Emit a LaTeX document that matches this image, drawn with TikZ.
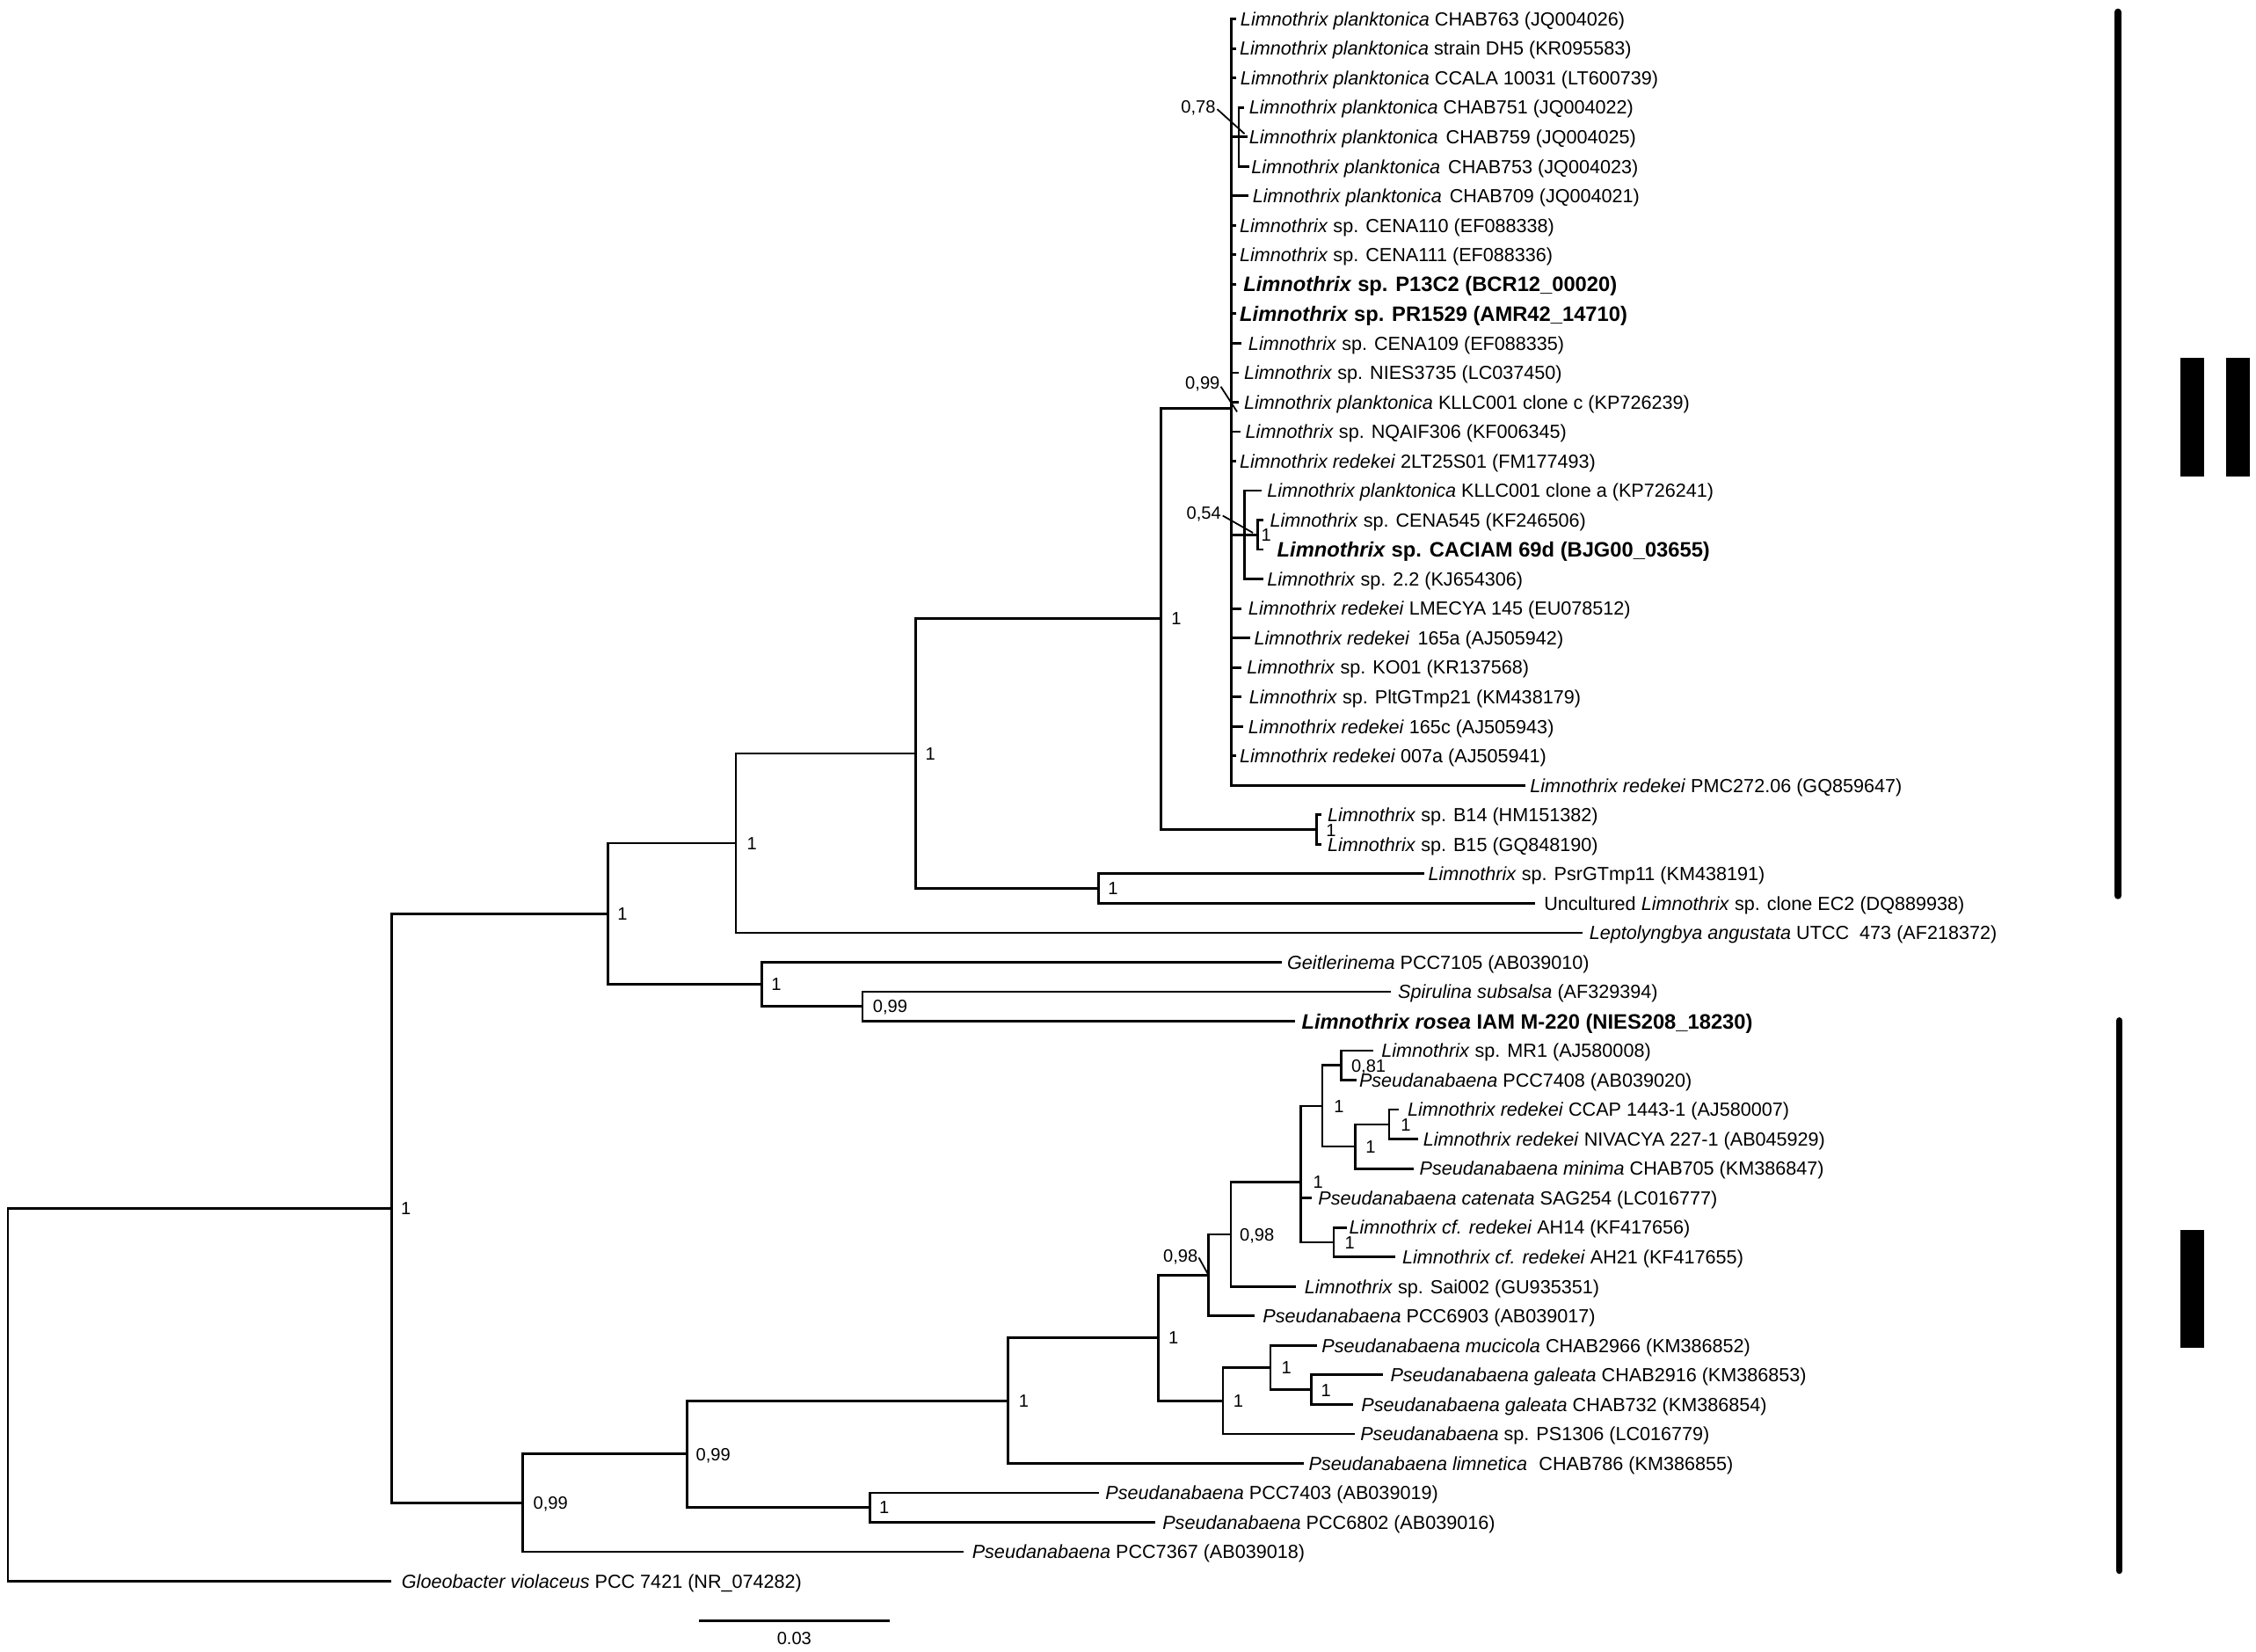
\documentclass[tikz,border=0pt]{standalone}
\usepackage{fontspec}
\setmainfont{Liberation Sans}
\tikzset{
  br/.style={line width=1.7pt, line cap=rect, line join=miter},
  leaf/.style={anchor=west, inner sep=0pt, font=\fontsize{13.2}{15}\selectfont, text height=9.5pt, text depth=0pt},
  bleaf/.style={anchor=west, inner sep=0pt, font=\bfseries\fontsize{14.5}{17}\selectfont, text height=10.4pt, text depth=0pt},
  supp/.style={anchor=west, inner sep=0pt, font=\fontsize{12.3}{14}\selectfont, text height=8.8pt, text depth=0pt},
  lead/.style={line width=1.1pt},
  bar/.style={line width=4.7pt, line cap=round},
  blk/.style={fill=black, inner sep=0pt, minimum width=16.2pt, minimum height=82pt},
}
\newcommand\leafnode[5]{\coordinate (#1) at (#3,{13.2+(#2-1)*20.487});
  \node[leaf] (#1t) at (#4,{13.2+(#2-1)*20.487}) {#5};}
\newcommand\boldleaf[5]{\coordinate (#1) at (#3,{13.2+(#2-1)*20.487});
  \node[bleaf] (#1t) at (#4,{13.2+(#2-1)*20.487}) {#5};}
\begin{document}
\begin{tikzpicture}[x=1pt,y=-1pt]
\useasboundingbox (0,0) rectangle (1568,1148);
% ---------- internal nodes
\coordinate (root) at (5.5,969.4);
\coordinate (A) at (272,839.8);
\coordinate (B) at (422.5,635);
\coordinate (C) at (511.5,586);
\coordinate (D) at (636.4,523.7);
\coordinate (E) at (807,429.8);
\coordinate (Q) at (856,283.7);
\coordinate (Q1) at (861,95.15);
\coordinate (S) at (865,371.7);
\coordinate (T) at (874,371.7);
\coordinate (R) at (915,576.6);
\coordinate (F) at (763.5,617.6);
\coordinate (G) at (529.4,684.1);
\coordinate (H) at (599.5,699.5);
\coordinate (P) at (363.5,1044.6);
\coordinate (U) at (477.5,1010.6);
\coordinate (V) at (700.5,973.5);
\coordinate (W) at (604.5,1047.8);
\coordinate (X) at (805,929.9);
\coordinate (Y) at (840,886.3);
\coordinate (AA) at (855.5,857.9);
\coordinate (BB) at (904,821.6);
\coordinate (DD) at (919,768.7);
\coordinate (FF) at (932,740.5);
\coordinate (GG) at (942,796.8);
\coordinate (HH) at (965.5,781.5);
\coordinate (EE) at (927,863.4);
\coordinate (Z) at (850,973.5);
\coordinate (CC) at (883,950.5);
\coordinate (II) at (911.4,965.8);
% ---------- leaves
\leafnode{l1}{1}{858.5}{862}{\textit{Limnothrix planktonica} CHAB763 (JQ004026)}
\leafnode{l2}{2}{858.5}{861.5}{\textit{Limnothrix planktonica} strain DH5 (KR095583)}
\leafnode{l3}{3}{858.5}{862}{\textit{Limnothrix planktonica} CCALA 10031 (LT600739)}
\leafnode{l4}{4}{864}{868}{\textit{Limnothrix planktonica} CHAB751 (JQ004022)}
\leafnode{l5}{5}{866}{868}{\textit{Limnothrix planktonica}\hspace{5.5pt}CHAB759 (JQ004025)}
\leafnode{l6}{6}{867.5}{869.5}{\textit{Limnothrix planktonica}\hspace{5.5pt}CHAB753 (JQ004023)}
\leafnode{l7}{7}{867}{870.5}{\textit{Limnothrix planktonica}\hspace{5.5pt}CHAB709 (JQ004021)}
\leafnode{l8}{8}{858.5}{861.5}{\textit{Limnothrix} sp. CENA110 (EF088338)}
\leafnode{l9}{9}{858.5}{861.5}{\textit{Limnothrix} sp. CENA111 (EF088336)}
\boldleaf{l10}{10}{858.5}{864}{\textit{Limnothrix} sp. P13C2 (BCR12\_00020)}
\boldleaf{l11}{11}{858.5}{861.5}{\textit{Limnothrix} sp. PR1529 (AMR42\_14710)}
\leafnode{l12}{12}{862}{867.5}{\textit{Limnothrix} sp. CENA109 (EF088335)}
\leafnode{l13}{13}{860}{864.5}{\textit{Limnothrix} sp. NIES3735 (LC037450)}
\leafnode{l14}{14}{860}{864.5}{\textit{Limnothrix planktonica} KLLC001 clone c (KP726239)}
\leafnode{l15}{15}{861.5}{865.5}{\textit{Limnothrix} sp. NQAIF306 (KF006345)}
\leafnode{l16}{16}{858.5}{861.5}{\textit{Limnothrix redekei} 2LT25S01 (FM177493)}
\leafnode{l17}{17}{876}{880.5}{\textit{Limnothrix planktonica} KLLC001 clone a (KP726241)}
\leafnode{l18}{18}{877}{882.5}{\textit{Limnothrix} sp. CENA545 (KF246506)}
\boldleaf{l19}{19}{877}{887.5}{\textit{Limnothrix} sp. CACIAM 69d (BJG00\_03655)}
\leafnode{l20}{20}{877}{880.5}{\textit{Limnothrix} sp. 2.2 (KJ654306)}
\leafnode{l21}{21}{862}{867.5}{\textit{Limnothrix redekei} LMECYA 145 (EU078512)}
\leafnode{l22}{22}{868}{871.5}{\textit{Limnothrix redekei}\hspace{5.5pt}165a (AJ505942)}
\leafnode{l23}{23}{862}{866.5}{\textit{Limnothrix} sp. KO01 (KR137568)}
\leafnode{l24}{24}{862}{868}{\textit{Limnothrix} sp. PltGTmp21 (KM438179)}
\leafnode{l25}{25}{863}{867.5}{\textit{Limnothrix redekei} 165c (AJ505943)}
\leafnode{l26}{26}{858.5}{861.5}{\textit{Limnothrix redekei} 007a (AJ505941)}
\leafnode{l27}{27}{1059.6}{1063.2}{\textit{Limnothrix redekei} PMC272.06 (GQ859647)}
\leafnode{l28}{28}{917.5}{922.5}{\textit{Limnothrix} sp. B14 (HM151382)}
\leafnode{l29}{29}{917.5}{922.5}{\textit{Limnothrix} sp. B15 (GQ848190)}
\leafnode{l30}{30}{989}{992.5}{\textit{Limnothrix} sp. PsrGTmp11 (KM438191)}
\leafnode{l31}{31}{1066}{1073}{Uncultured \textit{Limnothrix} sp. clone EC2 (DQ889938)}
\leafnode{l32}{32}{1099}{1104.5}{\textit{Leptolyngbya angustata} UTCC\ \ 473 (AF218372)}
\leafnode{l33}{33}{890}{894.5}{\textit{Geitlerinema} PCC7105 (AB039010)}
\leafnode{l34}{34}{966}{971.5}{\textit{Spirulina subsalsa} (AF329394)}
\boldleaf{l35}{35}{899}{904.5}{\textit{Limnothrix rosea} IAM M-220 (NIES208\_18230)}
\leafnode{l36}{36}{953.7}{960}{\textit{Limnothrix} sp. MR1 (AJ580008)}
\leafnode{l37}{37}{942}{944.5}{\textit{Pseudanabaena} PCC7408 (AB039020)}
\leafnode{l38}{38}{971.6}{978.2}{\textit{Limnothrix redekei} CCAP 1443-1 (AJ580007)}
\leafnode{l39}{39}{985}{989}{\textit{Limnothrix redekei} NIVACYA 227-1 (AB045929)}
\leafnode{l40}{40}{981.8}{986.5}{\textit{Pseudanabaena minima} CHAB705 (KM386847)}
\leafnode{l41}{41}{911}{916}{\textit{Pseudanabaena catenata} SAG254 (LC016777)}
\leafnode{l42}{42}{935.4}{937.5}{\textit{Limnothrix cf. redekei} AH14 (KF417656)}
\leafnode{l43}{43}{969}{974.5}{\textit{Limnothrix cf. redekei} AH21 (KF417655)}
\leafnode{l44}{44}{900}{906.5}{\textit{Limnothrix} sp. Sai002 (GU935351)}
\leafnode{l45}{45}{871.4}{877.5}{\textit{Pseudanabaena} PCC6903 (AB039017)}
\leafnode{l46}{46}{914.8}{918.5}{\textit{Pseudanabaena mucicola} CHAB2966 (KM386852)}
\leafnode{l47}{47}{960.6}{966.2}{\textit{Pseudanabaena galeata} CHAB2916 (KM386853)}
\leafnode{l48}{48}{939.5}{946}{\textit{Pseudanabaena galeata} CHAB732 (KM386854)}
\leafnode{l49}{49}{940.5}{945.3}{\textit{Pseudanabaena} sp. PS1306 (LC016779)}
\leafnode{l50}{50}{905.4}{909.5}{\textit{Pseudanabaena limnetica}\hspace{8pt}CHAB786 (KM386855)}
\leafnode{l51}{51}{762.7}{768.2}{\textit{Pseudanabaena} PCC7403 (AB039019)}
\leafnode{l52}{52}{802}{807.8}{\textit{Pseudanabaena} PCC6802 (AB039016)}
\leafnode{l53}{53}{669}{675.5}{\textit{Pseudanabaena} PCC7367 (AB039018)}
\leafnode{l54}{54}{271}{279}{\textit{Gloeobacter violaceus} PCC 7421 (NR\_074282)}
% ---------- branches
\draw[br] (root) |- (A);  \draw[br] (root) |- (l54);
\draw[br] (A) |- (B);     \draw[br] (A) |- (P);
\draw[br] (B) |- (C);     \draw[br] (B) |- (G);
\draw[br] (C) |- (D);     \draw[br] (C) |- (l32);
\draw[br] (D) |- (E);     \draw[br] (D) |- (F);
\draw[br] (E) |- (Q);     \draw[br] (E) |- (R);
\foreach \c in {l1,l2,l3,Q1,l7,l8,l9,l10,l11,l12,l13,l14,l15,l16,S,l21,l22,l23,l24,l25,l26,l27}
  \draw[br] (Q) |- (\c);
\foreach \c in {l4,l5,l6} \draw[br] (Q1) |- (\c);
\foreach \c in {l17,T,l20} \draw[br] (S) |- (\c);
\draw[br] (T) |- (l18);   \draw[br] (T) |- (l19);
\draw[br] (R) |- (l28);   \draw[br] (R) |- (l29);
\draw[br] (F) |- (l30);   \draw[br] (F) |- (l31);
\draw[br] (G) |- (l33);   \draw[br] (G) |- (H);
\draw[br] (H) |- (l34);   \draw[br] (H) |- (l35);
\draw[br] (P) |- (U);     \draw[br] (P) |- (l53);
\draw[br] (U) |- (V);     \draw[br] (U) |- (W);
\draw[br] (V) |- (X);     \draw[br] (V) |- (l50);
\draw[br] (X) |- (Y);     \draw[br] (X) |- (Z);
\draw[br] (Y) |- (AA);    \draw[br] (Y) |- (l45);
\draw[br] (AA) |- (BB);   \draw[br] (AA) |- (l44);
\foreach \c in {DD,l41,EE} \draw[br] (BB) |- (\c);
\draw[br] (DD) |- (FF);   \draw[br] (DD) |- (GG);
\draw[br] (FF) |- (l36);  \draw[br] (FF) |- (l37);
\draw[br] (GG) |- (HH);   \draw[br] (GG) |- (l40);
\draw[br] (HH) |- (l38);  \draw[br] (HH) |- (l39);
\draw[br] (EE) |- (l42);  \draw[br] (EE) |- (l43);
\draw[br] (Z) |- (CC);    \draw[br] (Z) |- (l49);
\draw[br] (CC) |- (l46);  \draw[br] (CC) |- (II);
\draw[br] (II) |- (l47);  \draw[br] (II) |- (l48);
\draw[br] (W) |- (l51);   \draw[br] (W) |- (l52);
% ---------- support values
\node[supp] (sA) at (278.5,839.8) {1};
\node[supp] (sB) at (429,635) {1};
\node[supp] (sC) at (519,586) {1};
\node[supp] (sD) at (643,523.7) {1};
\node[supp] (sE) at (814,429.8) {1};
\node[supp] (sF) at (770,617.6) {1};
\node[supp] (sG) at (536,684.1) {1};
\node[supp] (sH) at (606.5,699.5) {0,99};
\node[supp] (sR) at (921.5,577) {1};
\node[supp] (sT) at (876.5,371.7) {1};
\node[supp] (sP) at (370.5,1044.6) {0,99};
\node[supp] (sU) at (483.5,1010.6) {0,99};
\node[supp] (sV) at (708,973.5) {1};
\node[supp] (sW) at (611,1047.8) {1};
\node[supp] (sX) at (812,929.9) {1};
\node[supp] (sAA) at (861.5,857.9) {0,98};
\node[supp] (sZ) at (857,973.5) {1};
\node[supp] (sCC) at (890.5,950.5) {1};
\node[supp] (sII) at (918,966) {1};
\node[supp] (sBB) at (912.5,821.6) {1};
\node[supp] (sDD) at (927,768.7) {1};
\node[supp] (sFF) at (939,741) {0,81};
\node[supp] (sGG) at (949,797) {1};
\node[supp] (sHH) at (973.5,781.5) {1};
\node[supp] (sEE) at (934.5,863.4) {1};
% labels with leader lines
\node[supp,anchor=east] (sQ1) at (845,74.4) {0,78};
\coordinate (pQ1) at (865,93);
\draw[lead] ([xshift=1pt,yshift=-1.5pt]sQ1.east) -- (pQ1);
\node[supp,anchor=east] (sQ) at (848,266.2) {0,99};
\coordinate (pQ) at (859.8,286.2);
\draw[lead] ([xshift=0.5pt,yshift=-2.5pt]sQ.east) -- (pQ);
\node[supp,anchor=east] (sS) at (848.8,356.4) {0,54};
\coordinate (pS) at (870.8,370.3);
\draw[lead] ([xshift=1pt,yshift=-2pt]sS.east) -- (pS);
\node[supp,anchor=east] (sY) at (832.7,872.6) {0,98};
\draw[lead] ([xshift=0.5pt,yshift=-1.5pt]sY.east) -- (Y);
% ---------- scale bar
\coordinate (sb1) at (485.7,1126.5);
\coordinate (sb2) at (618.6,1126.5);
\draw[line width=1.7pt] (sb1) -- (sb2);
\node[supp,anchor=center] (sbl) at (552,1138.5) {0.03};
% ---------- clade bars
\coordinate (b1a) at (1472,8.3);   \coordinate (b1b) at (1472,622.6);
\coordinate (b2a) at (1473,709.4); \coordinate (b2b) at (1473,1091.6);
\draw[bar] (b1a) -- (b1b);
\draw[bar] (b2a) -- (b2b);
\node[blk] (m1) at (1523.6,290) {};
\node[blk] (m2) at (1555.35,290) {};
\node[blk] (m3) at (1523.6,895.6) {};
\end{tikzpicture}
\end{document}
